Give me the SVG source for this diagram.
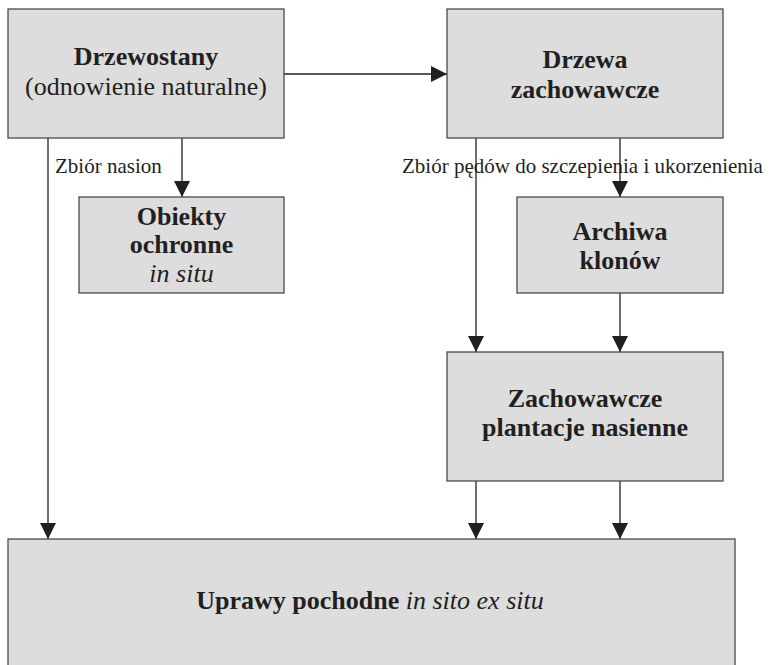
<svg xmlns="http://www.w3.org/2000/svg" width="771" height="665" viewBox="0 0 771 665">
<defs>
<style>
.box{fill:#dddddd;stroke:#4a4a4a;stroke-width:1.3}
.t{font-family:"Liberation Serif","Times New Roman",serif;font-size:26px;fill:#231f20;text-anchor:middle}
.b{font-weight:bold}
.i{font-style:italic}
.lbl{font-family:"Liberation Serif","Times New Roman",serif;font-size:21px;fill:#231f20}
.c{stroke:#231f20;stroke-width:1.3;fill:none;marker-end:url(#arr)}
</style>
<marker id="arr" markerUnits="userSpaceOnUse" markerWidth="16" markerHeight="17" refX="16" refY="8" orient="auto" viewBox="0 0 16 16">
<path d="M0,0 L16,8 L0,16 Z" fill="#231f20"/>
</marker>
</defs>
<rect width="771" height="665" fill="#ffffff"/>
<g id="connectors">
<line class="c" x1="284" y1="74" x2="447" y2="74"/>
<line class="c" x1="182" y1="138" x2="182" y2="197"/>
<line class="c" x1="48" y1="138" x2="48" y2="539"/>
<line class="c" x1="476" y1="138" x2="476" y2="352"/>
<line class="c" x1="620" y1="138" x2="620" y2="197"/>
<line class="c" x1="620" y1="293" x2="620" y2="352"/>
<line class="c" x1="476" y1="481" x2="476" y2="539"/>
<line class="c" x1="620" y1="481" x2="620" y2="539"/>
<text class="lbl" x="55" y="173">Zbiór nasion</text>
<text class="lbl" x="402" y="173">Zbiór pędów do szczepienia i ukorzenienia</text>
</g>
<g id="drzewostany">
<rect class="box" x="8" y="9" width="276" height="129"/>
<text class="t b" x="146" y="65">Drzewostany</text>
<text class="t" x="146" y="95">(odnowienie naturalne)</text>
</g>
<g id="drzewa-zachowawcze">
<rect class="box" x="447" y="9" width="276" height="129"/>
<text class="t b" x="585" y="68">Drzewa</text>
<text class="t b" x="585" y="98">zachowawcze</text>
</g>
<g id="obiekty-ochronne">
<rect class="box" x="79" y="197" width="205" height="96"/>
<text class="t b" x="181.5" y="225">Obiekty</text>
<text class="t b" x="181.5" y="253">ochronne</text>
<text class="t i" x="181.5" y="282">in situ</text>
</g>
<g id="archiwa-klonow">
<rect class="box" x="517" y="197" width="206" height="96"/>
<text class="t b" x="620" y="240">Archiwa</text>
<text class="t b" x="620" y="269">klonów</text>
</g>
<g id="plantacje">
<rect class="box" x="447" y="352" width="276" height="129"/>
<text class="t b" x="585" y="407">Zachowawcze</text>
<text class="t b" x="585" y="436">plantacje nasienne</text>
</g>
<g id="uprawy">
<rect class="box" x="8" y="539" width="727" height="140"/>
<text class="t" x="370" y="609"><tspan class="b">Uprawy pochodne</tspan> <tspan class="i">in sito ex situ</tspan></text>
</g>
</svg>
